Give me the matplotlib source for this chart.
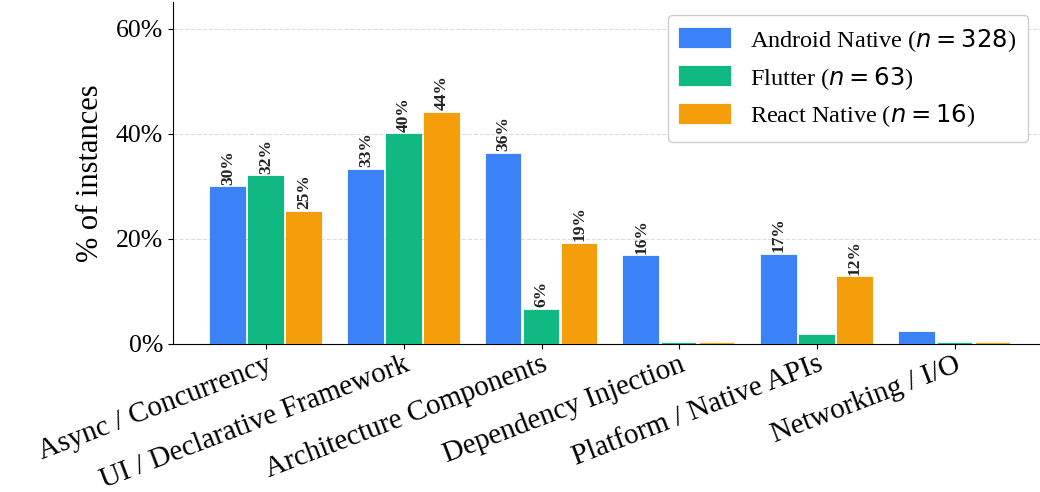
import matplotlib
matplotlib.use("Agg")
import matplotlib.pyplot as plt
import numpy as np

categories = ["Async / Concurrency", "UI / Declarative Framework", "Architecture Components",
              "Dependency Injection", "Platform / Native APIs", "Networking / I/O"]
series_names = ["Android Native ($n=328$)", "Flutter ($n=63$)", "React Native ($n=16$)"]
android = [29.6, 32.9, 36.0, 16.5, 16.8, 2.1]
flutter = [31.7, 39.7, 6.3, 0.0, 1.6, 0.0]
react = [25.0, 43.8, 18.8, 0.0, 12.5, 0.0]
colors = ["#3B82F6", "#10B981", "#F59E0B"]
yticks = [0, 20, 40, 60]

plt.rcParams['font.family'] = ['Liberation Serif', 'DejaVu Serif']
plt.rcParams['mathtext.fontset'] = 'dejavusans'

fig = plt.figure(figsize=(10.4, 4.92), dpi=100)
ax = fig.add_axes([0.166, 0.301, 0.834, 0.694])

x = np.arange(len(categories))
offset = 0.276
width = 0.245
for i, (vals, c, name) in enumerate(zip([android, flutter, react], colors, series_names)):
    xs = x + (i - 1) * offset
    ax.bar(xs, vals, width, color=c, label=name, zorder=3,
           edgecolor=c, linewidth=1.6)
    for xi, v in zip(xs, vals):
        if v >= 5:
            ax.text(xi, v + 0.7, f"{v:.0f}%", rotation=90, ha='center', va='bottom',
                    fontsize=12.5, fontweight='bold', color='#222222', zorder=4)

ax.set_xlim(-0.68, 5.62)
ax.set_ylim(0, 65)
ax.set_yticks(yticks)
ax.set_yticklabels([f"{t}%" for t in yticks], fontsize=18.5)
ax.set_ylabel("% of instances", fontsize=22, labelpad=8)
ax.set_xticks(x)
ax.set_xticklabels(categories, rotation=21, ha='right', rotation_mode='anchor', fontsize=21)
ax.tick_params(axis='x', pad=2)
ax.yaxis.grid(True, linestyle='--', color='#dddddd', linewidth=0.8, zorder=0)
ax.set_axisbelow(True)
ax.spines['top'].set_visible(False)
ax.spines['right'].set_visible(False)
leg = ax.legend(loc='upper right', fontsize=17.5, handlelength=2.05, handleheight=0.75,
                handletextpad=0.8, labelspacing=0.45, borderpad=0.5,
                framealpha=1.0, edgecolor='#cccccc')

fig.savefig("out.png", dpi=100)
